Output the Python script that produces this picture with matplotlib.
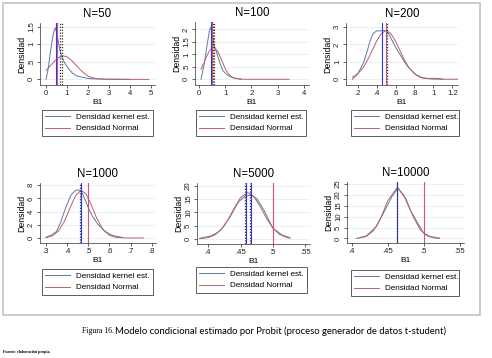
import matplotlib
matplotlib.use("Agg")
import matplotlib.pyplot as plt
from matplotlib.lines import Line2D
from matplotlib.patches import Rectangle

# ---- data ----
titles = ["N=50", "N=100", "N=200", "N=1000", "N=5000", "N=10000"]

kern_x = [
    [0, 0.1, 0.2, 0.3, 0.4, 0.45, 0.55, 0.65, 0.75, 0.9, 1.07, 1.25, 1.46, 1.8, 2.1, 2.5, 3.0, 3.5, 4.0],
    [0.08, 0.2, 0.3, 0.4, 0.45, 0.5, 0.58, 0.7, 0.8, 0.9, 1.05, 1.24, 1.4, 1.62],
    [0.144, 0.2, 0.26, 0.3, 0.33, 0.36, 0.4, 0.45, 0.5, 0.53, 0.56, 0.6, 0.65, 0.7, 0.73, 0.78, 0.82, 0.88, 0.93, 1.0, 1.05, 1.1],
    [0.3, 0.33, 0.35, 0.37, 0.39, 0.41, 0.42, 0.44, 0.455, 0.47, 0.485, 0.5, 0.52, 0.545, 0.57, 0.6, 0.62, 0.66],
    [0.387, 0.404, 0.415, 0.422, 0.434, 0.447, 0.457, 0.466, 0.475, 0.486, 0.5, 0.514, 0.526],
    [0.406, 0.42, 0.434, 0.446, 0.456, 0.464, 0.472, 0.481, 0.493, 0.5, 0.509, 0.522],
]
kern_y = [
    [0, 0.3, 0.75, 1.15, 1.42, 1.46, 1.2, 0.85, 0.65, 0.45, 0.31, 0.18, 0.1, 0.05, 0.02, 0.01, 0.005, 0.005, 0.0],
    [0, 0.6, 1.3, 1.95, 2.08, 1.9, 1.35, 1.0, 0.65, 0.37, 0.2, 0.08, 0.04, 0.01],
    [0, 0.3, 0.92, 1.6, 2.17, 2.6, 2.78, 2.78, 2.8, 2.6, 2.27, 1.85, 1.4, 0.95, 0.73, 0.45, 0.25, 0.1, 0.05, 0.05, 0.05, 0.0],
    [0.1, 0.5, 1.0, 2.4, 4.3, 5.9, 6.6, 7.25, 7.3, 6.9, 5.8, 4.6, 3.3, 2.1, 1.27, 0.6, 0.35, 0.1],
    [0.25, 1.1, 2.5, 4.0, 8.4, 14, 16.1, 16.5, 15.25, 10.9, 4.0, 1.5, 0.5],
    [0, 1.2, 5.5, 13.1, 19.5, 23.2, 20, 13.1, 6.25, 2.4, 0.9, 0.1],
]

norm_x = [
    [0, 0.2, 0.4, 0.6, 0.83, 1.0, 1.2, 1.4, 1.6, 1.8, 2.0, 2.2, 2.5, 2.8, 3.2, 4.9],
    [0.08, 0.2, 0.3, 0.4, 0.57, 0.7, 0.8, 0.9, 1.0, 1.1, 1.2, 1.35, 1.5, 1.7, 3.44],
    [0.144, 0.2, 0.26, 0.3, 0.35, 0.4, 0.45, 0.5, 0.55, 0.6, 0.65, 0.7, 0.74, 0.8, 0.856, 0.9, 1.0, 1.26],
    [0.3, 0.33, 0.36, 0.39, 0.42, 0.44, 0.467, 0.49, 0.51, 0.54, 0.57, 0.6, 0.63, 0.68, 0.76],
    [0.387, 0.4, 0.41, 0.42, 0.43, 0.44, 0.45, 0.461, 0.47, 0.48, 0.49, 0.5, 0.51, 0.52, 0.526],
    [0.41, 0.42, 0.43, 0.44, 0.45, 0.463, 0.475, 0.485, 0.495, 0.505, 0.515, 0.522],
]
norm_y = [
    [0.255, 0.383, 0.514, 0.618, 0.665, 0.639, 0.55, 0.424, 0.292, 0.18, 0.099, 0.049, 0.014, 0.003, 0.0, 0.0],
    [0.40, 0.68, 0.93, 1.15, 1.29, 1.15, 0.93, 0.68, 0.44, 0.26, 0.14, 0.044, 0.011, 0.0, 0.0],
    [0.12, 0.31, 0.68, 1.05, 1.61, 2.19, 2.63, 2.8, 2.63, 2.19, 1.61, 1.05, 0.68, 0.31, 0.12, 0.055, 0.006, 0.0],
    [0.07, 0.33, 1.09, 2.72, 5.03, 6.43, 7.25, 6.64, 5.34, 3.01, 1.25, 0.39, 0.09, 0.0, 0.0],
    [0.09, 0.49, 1.43, 3.47, 6.94, 11.45, 15.6, 17.5, 16.2, 12.4, 7.8, 4.05, 1.74, 0.61, 0.3],
    [0.18, 0.96, 3.58, 9.41, 17.5, 23.5, 18.3, 10.2, 4.0, 1.1, 0.22, 0.05],
]

vline_blue = [[0.48], [0.47], [0.455], [0.466], [0.459, 0.466], [0.463]]
vline_red = [0.53, 0.49, 0.497, 0.5, 0.5, 0.5]
vline_dot = [[0.66, 0.76], [0.55, 0.58], [0.505], [0.462], [0.457, 0.464], [0.462]]

xticks = [
    [0, 1, 2, 3, 4, 5],
    [0, 1, 2, 3, 4],
    [0.2, 0.4, 0.6, 0.8, 1.0, 1.2],
    [0.3, 0.4, 0.5, 0.6, 0.7, 0.8],
    [0.4, 0.45, 0.5, 0.55],
    [0.4, 0.45, 0.5, 0.55],
]
xticklabels = [
    ["0", "1", "2", "3", "4", "5"],
    ["0", "1", "2", "3", "4"],
    [".2", ".4", ".6", ".8", "1", "1.2"],
    [".3", ".4", ".5", ".6", ".7", ".8"],
    [".4", ".45", ".5", ".55"],
    [".4", ".45", ".5", ".55"],
]
yticks = [
    [0, 0.5, 1, 1.5],
    [0, 0.5, 1, 1.5, 2],
    [0, 1, 2, 3],
    [0, 2, 4, 6, 8],
    [0, 5, 10, 15, 20],
    [0, 5, 10, 15, 20, 25],
]
yticklabels = [
    ["0", ".5", "1", "1.5"],
    ["0", ".5", "1", "1.5", "2"],
    ["0", "1", "2", "3"],
    ["0", "2", "4", "6", "8"],
    ["0", "5", "10", "15", "20"],
    ["0", "5", "10", "15", "20", "25"],
]
xlims = [(-0.29, 5.2), (-0.15, 4.2), (0.077, 1.26), (0.272, 0.82), (0.383, 0.557), (0.393, 0.556)]
ylims = [(-0.16, 1.6), (-0.23, 2.3), (-0.33, 3.23), (-0.76, 8.35), (-1.9, 21.1), (-2.1, 26)]

# axes boxes in pixels: left, top, right, bottom
boxes = [
    (40, 23, 155, 85), (195, 22, 309, 85), (346, 23, 458, 85),
    (40, 183, 156, 243), (197, 183, 310, 244), (347, 182, 464, 243),
]
legend_boxes = [
    (42, 110, 153), (196, 110, 306), (351, 110, 459),
    (42, 269, 153), (196, 267, 307), (351, 270, 459),
]

W, H = 492, 358
KERN_C = "#5b7ba6"
NORM_C = "#b9606a"
BLUE_C = "#3035e8"
RED_C = "#d2507a"
SANS = "Liberation Sans"

fig = plt.figure(figsize=(W / 100, H / 100), dpi=100)
fig.patch.set_facecolor("white")


def fx(px):
    return px / W


def fy(py):
    return 1 - py / H


for i in range(6):
    l, t, r, b = boxes[i]
    ax = fig.add_axes([fx(l), fy(b), fx(r - l), (b - t) / H])
    ax.plot(kern_x[i], kern_y[i], color=KERN_C, lw=0.7)
    ax.plot(norm_x[i], norm_y[i], color=NORM_C, lw=0.7)
    for v in vline_blue[i]:
        ax.axvline(v, color=BLUE_C, lw=0.8)
    ax.axvline(vline_red[i], color=RED_C, lw=0.8)
    for v in vline_dot[i]:
        ax.axvline(v, color="#333333", lw=0.9, ls=(0, (1, 1.3)))

    ax.set_xlim(xlims[i])
    ax.set_ylim(ylims[i])
    ax.set_xticks(xticks[i])
    ax.set_xticklabels(xticklabels[i], fontsize=5.6, family=SANS)
    ax.set_yticks(yticks[i])
    ax.set_yticklabels(yticklabels[i], fontsize=5.6, family=SANS, rotation=90, va="center")
    ax.tick_params(length=2.2, width=0.5, pad=1.5, colors="#222222")
    for s in ["top", "right"]:
        ax.spines[s].set_visible(False)
    for s in ["left", "bottom"]:
        ax.spines[s].set_linewidth(0.5)
        ax.spines[s].set_color("#333333")
    ax.grid(axis="y", color="#e6ecf0", lw=0.6)
    ax.set_axisbelow(True)

    ax.set_xlabel("B1", fontsize=6, family=SANS, labelpad=1)
    ax.set_ylabel("Densidad", fontsize=6.3, family=SANS, labelpad=1)

    fig.text(fx((l + r) / 2), fy(t - 9), titles[i], ha="center", va="center",
             fontsize=8.3, family=SANS)

    lx0, ly0, lx1 = legend_boxes[i]
    handles = [Line2D([], [], color=KERN_C, lw=0.7), Line2D([], [], color=NORM_C, lw=0.7)]
    leg = ax.legend(handles, ["Densidad kernel est.", "Densidad Normal"],
                    loc="upper left", bbox_to_anchor=(fx(lx0), fy(ly0), fx(lx1 - lx0), 0),
                    bbox_transform=fig.transFigure, mode="expand", borderaxespad=0,
                    prop={"family": SANS, "size": 5.9}, fancybox=False,
                    edgecolor="#444444", framealpha=1, handlelength=3.0,
                    handletextpad=0.7, borderpad=0.4, labelspacing=0.45)
    leg.get_frame().set_linewidth(0.6)

# outer frame of the figure panel
fig.patches.append(Rectangle((fx(3), fy(315)), fx(477), (315 - 3) / H,
                             transform=fig.transFigure, fill=False,
                             edgecolor="#c4c4c4", lw=1.2))

fig.text(fx(82), fy(331), "Figura 16.", ha="left", va="center", fontsize=5.6,
         family="Liberation Serif")
fig.text(fx(115), fy(331),
         "Modelo condicional estimado por Probit (proceso generador de datos t-student)",
         ha="left", va="center", fontsize=6.85, family="Lato")
fig.text(fx(3), fy(352), "Fuente: elaboración propia.", ha="left", va="center",
         fontsize=2.9, family="Liberation Serif", weight="bold")

fig.savefig("out.png", dpi=100, facecolor="white")
